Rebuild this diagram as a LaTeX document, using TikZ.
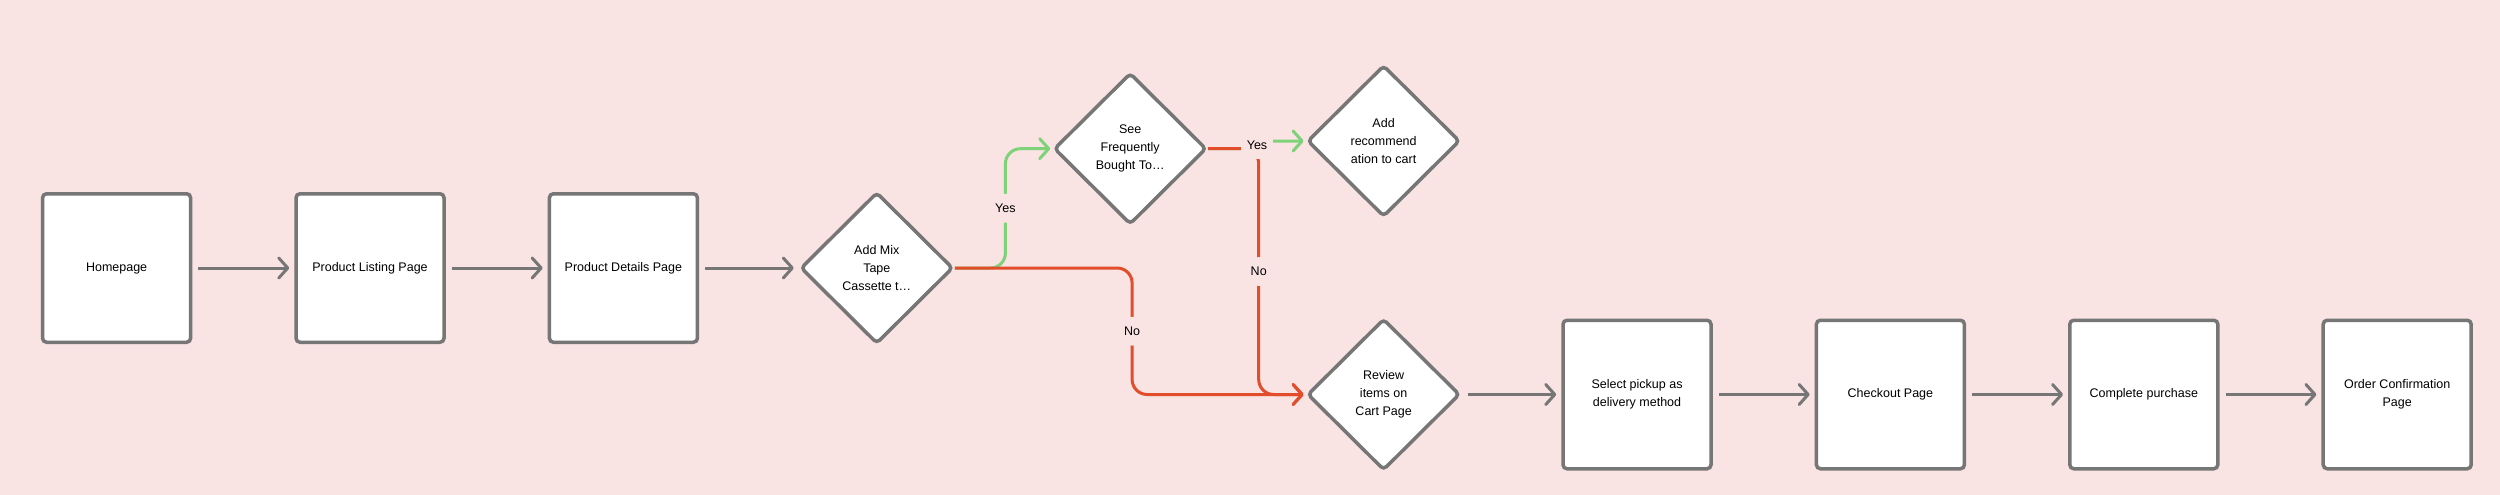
\documentclass[tikz,border=0pt]{standalone}
\usepackage{fontspec}
\setmainfont{Liberation Sans}
\usetikzlibrary{shapes.geometric,arrows.meta}
\definecolor{bg}{HTML}{F9E3E3}
\definecolor{edge}{HTML}{767676}
\definecolor{yesc}{HTML}{7ED37A}
\definecolor{noc}{HTML}{E24E2B}
\tikzset{>={Straight Barb[round,length=9pt,width=20pt]}}
\tikzset{
  page/.style={draw=edge,line width=3.5pt,fill=white,rounded corners=4pt,
    minimum width=148pt,minimum height=148.5pt,align=center,inner sep=0pt},
  choice/.style={page,diamond,minimum width=152.5pt,minimum height=151.5pt},
  flow/.style={->,draw=edge,line width=3pt,shorten <=6pt,shorten >=5pt},
  yesline/.style={->,draw=yesc,line width=3pt,rounded corners=15pt,shorten >=2pt},
  noline/.style={->,draw=noc,line width=3pt,rounded corners=15pt,shorten >=2pt},
  tag/.style={fill=bg,inner xsep=6pt,inner ysep=10pt}
}

\begin{document}
\begin{tikzpicture}[x=1pt,y=-1pt,font=\fontsize{12.5pt}{18pt}\selectfont]
  \fill[bg] (0,0) rectangle (2500,495);
  \node[page] (home) at (116.6,268) {Homepage};
  \node[page] (listing) at (370,268) {Product Listing Page};
  \node[page] (details) at (623.4,268) {Product Details Page};
  \node[choice] (addmix) at (876.8,268) {Add Mix\\Tape\\Cassette t…};
  \node[choice] (frequent) at (1130.2,148.7) {See\\Frequently\\Bought To…};
  \node[choice] (recommend) at (1383.6,141) {Add\\recommend\\ation to cart};
  \node[choice] (review) at (1383.6,394.5) {Review\\items on\\Cart Page};
  \node[page] (pickup) at (1637,394.5) {Select pickup as\\delivery method};
  \node[page] (checkout) at (1890.4,394.5) {Checkout Page};
  \node[page] (purchase) at (2143.8,394.5) {Complete purchase};
  \node[page] (confirm) at (2397.2,394.5) {Order Confirmation\\Page};
  \draw[flow] (home) -- (listing);
  \draw[flow] (listing) -- (details);
  \draw[flow] (details) -- (addmix);
  \draw[flow] (review) -- (pickup);
  \draw[flow] (pickup) -- (checkout);
  \draw[flow] (checkout) -- (purchase);
  \draw[flow] (purchase) -- (confirm);
  \draw[yesline] (addmix.east) -- ++(50.6,0) |- (frequent.west) node[tag,pos=.25] (yesa) {Yes};
  \draw[noline] (addmix.east) -- ++(177.3,0) |- (review.west) node[tag,pos=.25] (noa) {No};
  \draw[yesline] (frequent.east) -- ++(50.5,0) |- (recommend.west);
  \draw[noline] (frequent.east) -- ++(50.5,0) |- (review.west) node[tag,pos=.25] (nob) {No};
  \node[tag] (yesb) at (1257,145) {Yes};
\end{tikzpicture}
\end{document}
